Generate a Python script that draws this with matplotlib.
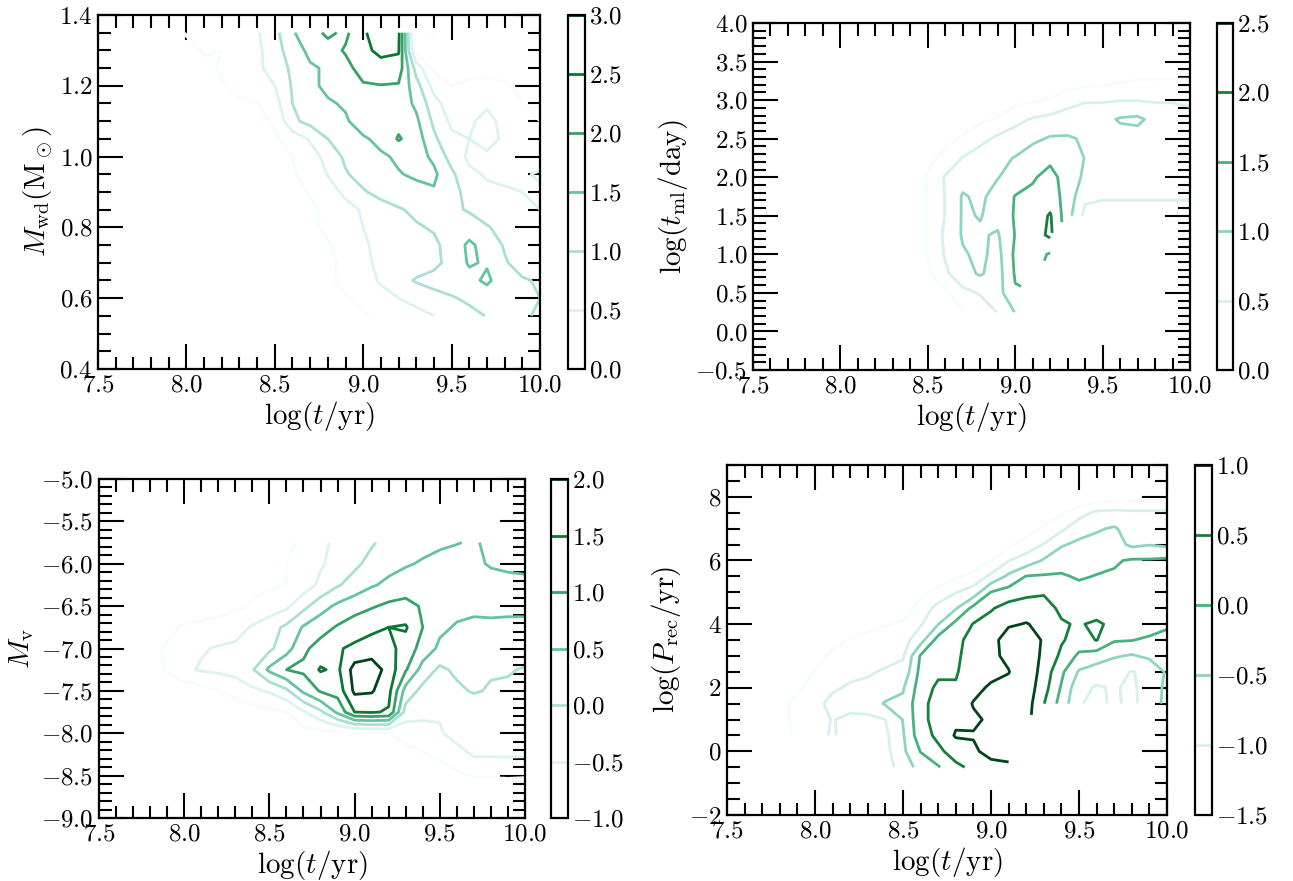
import numpy as np
import matplotlib
matplotlib.use("Agg")
import matplotlib.pyplot as plt
from matplotlib.ticker import MultipleLocator

plt.rcParams['font.family'] = 'serif'
plt.rcParams['font.serif'] = ['cmr10', 'DejaVu Serif']
plt.rcParams['mathtext.fontset'] = 'cm'
plt.rcParams['axes.formatter.use_mathtext'] = True
plt.rcParams['axes.unicode_minus'] = True

nan = np.nan

# ---------------- Panel 1 : white-dwarf mass vs age (log density) ----------------
logt_p1 = [7.9, 8.0, 8.1, 8.2, 8.3, 8.4, 8.5, 8.6, 8.7, 8.8, 8.9,
           9.0, 9.1, 9.2, 9.3, 9.4, 9.5, 9.6, 9.7, 9.8, 9.9, 10.0]
mwd_p1 = [1.35, 1.30, 1.25, 1.20, 1.15, 1.10, 1.05, 1.00, 0.95,
          0.90, 0.85, 0.80, 0.75, 0.70, 0.65, 0.60, 0.55]
dens_p1 = [
    [-0.5, 0.05, 0.1, 0.1, 0.2, 0.45, 0.85, 1.45, 1.8, 2.1, 1.9, 2.4, 2.9, 2.6, -0.3, 0.05, -0.5, -0.5, -0.5, -0.5, -0.5, -0.5],
    [-0.5, -0.2, 0.05, 0.0, 0.2, 0.4, 0.75, 1.3, 1.6, 1.8, 2.05, 2.4, 2.6, 2.55, -0.2, -0.1, -0.5, -0.5, -0.5, -0.5, -0.5, -0.5],
    [-0.5, -0.3, -0.1, 0.05, 0.25, 0.4, 0.7, 1.1, 1.45, 1.55, 1.85, 2.2, 2.35, 2.3, 0.8, -0.1, -0.4, -0.3, -0.3, -0.4, -0.5, -0.5],
    [-0.5, -0.5, -0.2, -0.05, 0.2, 0.35, 0.5, 1.05, 1.4, 1.6, 1.7, 1.95, 1.98, 1.95, 1.2, 0.3, 0.0, 0.2, 0.3, 0.1, -0.1, -0.3],
    [-0.6, -0.5, -0.4, -0.25, -0.1, -0.02, 0.3, 1.0, 1.2, 1.45, 1.55, 1.75, 1.8, 1.8, 1.4, 0.7, 0.2, 0.3, 0.45, 0.3, 0.0, -0.2],
    [-0.6, -0.6, -0.4, -0.3, -0.2, -0.1, 0.05, 0.9, 1.15, 1.35, 1.45, 1.7, 1.8, 1.85, 1.6, 0.9, 0.4, 0.45, 0.6, 0.4, 0.2, 0.0],
    [-0.7, -0.6, -0.5, -0.4, -0.3, -0.15, -0.05, 0.2, 0.55, 1.0, 1.3, 1.45, 1.6, 2.05, 1.75, 1.1, 0.6, 0.5, 0.6, 0.45, 0.3, 0.1],
    [-0.8, -0.7, -0.6, -0.5, -0.4, -0.35, -0.2, 0.0, 0.3, 0.65, 1.1, 1.35, 1.45, 1.55, 1.7, 1.4, 0.8, 0.4, 0.45, 0.4, 0.4, 0.3],
    [-0.9, -0.8, -0.7, -0.6, -0.5, -0.4, -0.25, -0.05, 0.2, 0.52, 0.95, 1.2, 1.4, 1.48, 1.55, 1.6, 1.1, 0.6, 0.45, 0.4, 0.45, 0.55],
    [-1.0, -0.9, -0.8, -0.7, -0.6, -0.5, -0.35, -0.2, 0.05, 0.3, 0.6, 0.95, 1.15, 1.3, 1.4, 1.45, 1.2, 0.8, 0.6, 0.55, 0.5, 0.45],
    [-1.0, -1.0, -0.9, -0.8, -0.7, -0.5, -0.4, -0.25, -0.1, 0.1, 0.35, 0.55, 0.8, 0.95, 1.1, 1.2, 1.1, 0.95, 0.7, 0.6, 0.55, 0.5],
    [-1.0, -1.0, -1.0, -0.9, -0.8, -0.6, -0.45, -0.3, -0.1, 0.1, 0.3, 0.5, 0.65, 0.8, 0.95, 1.05, 1.15, 1.25, 1.05, 0.8, 0.6, 0.55],
    [-1.0, -1.0, -1.0, -1.0, -0.9, -0.7, -0.5, -0.35, -0.2, -0.05, 0.2, 0.45, 0.6, 0.65, 0.8, 0.9, 1.2, 1.6, 1.3, 0.95, 0.7, 0.6],
    [-1.0, -1.0, -1.0, -1.0, -1.0, -0.8, -0.6, -0.5, -0.3, -0.1, 0.1, 0.4, 0.6, 0.65, 0.75, 0.85, 1.2, 1.55, 1.45, 1.05, 0.8, 0.7],
    [-1.0, -1.0, -1.0, -1.0, -1.0, -1.0, -0.8, -0.6, -0.4, -0.1, 0.15, 0.3, 0.55, 0.8, 1.05, 1.2, 1.3, 1.35, 1.6, 1.2, 1.05, 0.95],
    [-1.0, -1.0, -1.0, -1.0, -1.0, -1.0, -1.0, -0.8, -0.6, -0.3, -0.05, 0.15, 0.35, 0.5, 0.65, 0.8, 0.95, 1.1, 1.2, 1.15, 1.05, 1.0],
    [-1.0, -1.0, -1.0, -1.0, -1.0, -1.0, -1.0, -1.0, -0.8, -0.6, -0.3, -0.05, 0.1, 0.25, 0.35, 0.5, 0.7, 0.85, 1.02, 1.1, 1.05, 0.95],
]
levels_p1 = [0.0, 0.5, 1.0, 1.5, 2.0, 2.5, 3.0]

# ---------------- Panel 2 : mass-loss timescale vs age ----------------
logt_p2 = [8.4, 8.5, 8.6, 8.7, 8.8, 8.9, 9.0, 9.1, 9.2, 9.3, 9.4, 9.5, 9.6, 9.7, 9.8, 9.9, 10.0]
tml_p2 = [3.5, 3.25, 3.0, 2.75, 2.5, 2.25, 2.0, 1.75, 1.5, 1.25, 1.0, 0.75, 0.5, 0.25]
dens_p2 = [
    [-0.5, -0.5, -0.5, -0.5, -0.5, -0.5, -0.5, -0.5, -0.5, -0.5, -0.5, -0.5, -0.5, -0.5, -0.5, -0.5, -0.5],
    [-0.5, -0.5, -0.5, -0.5, -0.5, -0.5, -0.5, -0.45, -0.4, -0.3, -0.2, -0.15, -0.05, 0.02, 0.05, 0.05, 0.05],
    [-0.5, -0.5, -0.5, -0.5, -0.4, -0.3, -0.15, -0.05, 0.05, 0.3, 0.45, 0.45, 0.48, 0.48, 0.45, 0.45, 0.4],
    [-0.5, -0.4, -0.3, -0.2, -0.1, 0.05, 0.35, 0.55, 0.65, 0.75, 0.8, 0.85, 1.05, 1.1, 0.85, 0.8, 0.7],
    [-0.5, -0.3, -0.1, 0.05, 0.35, 0.6, 0.75, 0.9, 1.05, 1.05, 0.95, 0.8, 0.8, 0.8, 0.8, 0.75, 0.7],
    [-0.4, -0.1, 0.1, 0.52, 0.75, 0.9, 1.02, 1.25, 1.4, 1.3, 0.98, 0.75, 0.7, 0.7, 0.7, 0.65, 0.65],
    [-0.4, 0.05, 0.55, 0.8, 0.9, 0.98, 1.2, 1.45, 1.65, 1.3, 0.9, 0.7, 0.65, 0.65, 0.65, 0.6, 0.6],
    [-0.4, 0.02, 0.52, 1.05, 0.9, 1.2, 1.52, 1.6, 1.75, 1.3, 0.6, 0.55, 0.55, 0.55, 0.55, 0.55, 0.55],
    [-0.4, 0.02, 0.52, 1.05, 0.98, 1.15, 1.55, 1.7, 2.05, 1.2, 0.35, 0.3, 0.3, 0.3, 0.3, 0.3, 0.3],
    [-0.4, 0.02, 0.6, 1.05, 1.05, 0.95, 1.52, 1.75, 2.1, nan, nan, nan, nan, nan, nan, nan, nan],
    [-0.4, 0.02, 0.55, 0.95, 1.1, 0.85, 1.6, 1.7, 1.45, nan, nan, nan, nan, nan, nan, nan, nan],
    [-0.5, -0.1, 0.4, 0.85, 1.05, 0.8, 1.55, 1.6, nan, nan, nan, nan, nan, nan, nan, nan, nan],
    [-0.6, -0.4, -0.1, 0.35, 0.55, 0.8, 1.45, nan, nan, nan, nan, nan, nan, nan, nan, nan, nan],
    [-0.7, -0.6, -0.4, -0.05, 0.2, 0.52, 1.02, nan, nan, nan, nan, nan, nan, nan, nan, nan, nan],
]
levels_p2 = [0.0, 0.5, 1.0, 1.5, 2.0, 2.5]

# ---------------- Panel 3 : absolute V magnitude vs age ----------------
logt_p3 = [7.8, 7.9, 8.0, 8.1, 8.2, 8.3, 8.4, 8.5, 8.6, 8.7, 8.8, 8.9,
           9.0, 9.1, 9.2, 9.3, 9.4, 9.5, 9.6, 9.7, 9.8, 9.9, 10.0]
mv_p3 = [-5.75, -6.0, -6.25, -6.5, -6.75, -7.0, -7.25, -7.5, -7.75, -8.0, -8.25, -8.5, -8.75]
dens_p3 = [
    [-1.5, -1.5, -1.5, -1.5, -1.4, -1.3, -1.2, -1.1, -1.05, -0.95, -0.6, -0.4, -0.2, -0.05, 0.15, 0.25, 0.35, 0.42, 0.48, 0.55, 0.4, 0.35, 0.3],
    [-1.5, -1.5, -1.5, -1.4, -1.3, -1.2, -1.15, -1.1, -1.0, -0.8, -0.55, -0.35, -0.1, 0.15, 0.35, 0.45, 0.55, 0.65, 0.7, 0.6, 0.45, 0.4, 0.4],
    [-1.5, -1.5, -1.4, -1.3, -1.2, -1.15, -1.1, -1.05, -1.0, -0.75, -0.4, -0.05, 0.2, 0.45, 0.6, 0.75, 0.8, 0.8, 0.75, 0.7, 0.7, 0.65, 0.6],
    [-1.5, -1.4, -1.3, -1.2, -1.15, -1.1, -0.95, -0.8, -0.6, -0.15, 0.3, 0.6, 0.8, 0.95, 1.1, 1.15, 0.95, 0.8, 0.65, 0.6, 0.6, 0.55, 0.55],
    [-1.3, -1.1, -0.95, -0.9, -0.85, -0.7, -0.45, -0.2, 0.1, 0.55, 0.8, 1.05, 1.25, 1.4, 1.5, 1.55, 1.0, 0.6, 0.45, 0.4, 0.42, 0.45, 0.45],
    [-1.1, -0.95, -0.8, -0.55, -0.45, -0.4, -0.3, -0.1, 0.3, 0.9, 1.2, 1.45, 1.6, 1.7, 1.65, 1.3, 0.8, 0.4, 0.3, 0.25, 0.25, 0.3, 0.35],
    [-1.2, -0.95, -0.6, -0.45, -0.4, -0.3, -0.05, 0.6, 1.0, 1.1, 1.55, 1.4, 2.2, 2.3, 1.8, 1.05, 0.3, -0.1, 0.1, 0.1, 0.05, 0.05, -0.05],
    [-1.5, -1.4, -1.3, -1.2, -1.0, -0.85, -0.6, -0.45, -0.1, 0.6, 1.05, 1.2, 2.1, 2.05, 1.65, 0.3, -0.15, -0.25, -0.1, 0.05, -0.05, -0.1, -0.15],
    [-1.6, -1.6, -1.5, -1.45, -1.4, -1.3, -1.2, -1.1, -1.0, -0.55, -0.1, 0.6, 1.5, 1.55, 1.45, -0.2, -0.4, -0.45, -0.4, -0.35, -0.4, -0.45, -0.5],
    [-1.7, -1.7, -1.7, -1.7, -1.6, -1.5, -1.4, -1.35, -1.3, -1.2, -1.15, -1.1, -1.1, -1.05, -1.0, -0.85, -0.65, -0.55, -0.3, -0.25, -0.25, -0.3, -0.3],
    [-1.8, -1.8, -1.8, -1.8, -1.8, -1.8, -1.8, -1.7, -1.65, -1.6, -1.55, -1.5, -1.5, -1.4, -1.3, -1.15, -1.05, -0.9, -0.7, -0.45, -0.45, -0.45, -0.45],
    [-2.0, -2.0, -2.0, -2.0, -2.0, -2.0, -2.0, -2.0, -2.0, -2.0, -2.0, -2.0, -2.0, -2.0, -2.0, -1.6, -1.45, -1.3, -1.1, -0.95, -0.9, -0.85, -0.9],
    [-2.0, -2.0, -2.0, -2.0, -2.0, -2.0, -2.0, -2.0, -2.0, -2.0, -2.0, -2.0, -2.0, -2.0, -2.0, -2.0, -2.0, -2.0, -2.0, -2.0, -2.0, -2.0, -2.0],
]
levels_p3 = [-1.0, -0.5, 0.0, 0.5, 1.0, 1.5, 2.0]

# ---------------- Panel 4 : recurrence period vs age (given column by column) ----------------
logt_p4 = [7.7, 7.8, 7.9, 8.0, 8.1, 8.2, 8.3, 8.4, 8.5, 8.6, 8.7, 8.8,
           8.9, 9.0, 9.1, 9.2, 9.3, 9.4, 9.5, 9.6, 9.7, 9.8, 9.9, 10.0]
prec_p4 = [8.5, 8.0, 7.5, 7.0, 6.5, 6.0, 5.5, 5.0, 4.5, 4.0, 3.5, 3.0, 2.5, 2.0, 1.5, 1.0, 0.5, 0.0, -0.5]
dens_p4_cols = [
    [-2, -2, -2, -2, -2, -2, -2, -2, -2, -2, -2, -2, -2, -2, -2, -2, -2, nan, nan],
    [-2, -2, -2, -2, -2, -2, -2, -2, -2, -2, -2, -2, -2, -1.9, -1.7, -1.7, -1.7, nan, nan],
    [-2, -2, -2, -2, -2, -2, -2, -2, -2, -2, -2, -2, -1.9, -1.6, -1.3, -1.35, -1.4, nan, nan],
    [-2, -2, -2, -2, -2, -2, -2, -2, -2, -2, -2, -1.8, -1.45, -1.25, -1.1, -1.15, -1.15, nan, nan],
    [-2, -2, -2, -2, -2, -2, -2, -2, -2, -2, -1.75, -1.35, -1.2, -1.05, -0.9, -0.98, -0.95, nan, nan],
    [-2, -2, -2, -2, -2, -2, -2, -2, -2, -1.8, -1.45, -1.3, -1.1, -0.95, -0.85, -1.1, -1.2, nan, nan],
    [-2, -2, -2, -2, -2, -2, -2, -2, -1.9, -1.6, -1.4, -1.25, -1.05, -0.9, -0.8, -1.1, -1.2, nan, nan],
    [-2, -2, -2, -2, -2, -2, -2, -2, -1.75, -1.52, -1.3, -1.15, -0.95, -0.8, -0.45, -1.0, -1.1, -1.15, -1.2],
    [-2, -2, -2, -2, -2, -2, -2, -1.9, -1.7, -1.45, -1.2, -1.05, -0.85, -0.55, -0.4, -0.48, -0.55, -0.6, -0.8],
    [-2, -2, -2, -2, -2, -2, -1.85, -1.6, -1.35, -1.05, -0.7, 0.05, 0.15, 0.25, 0.35, 0.35, 0.3, 0.02, -0.3],
    [-2, -2, -2, -2, -2, -2, -1.7, -1.4, -0.8, -0.52, 0.2, 0.3, 0.4, 0.6, 0.7, 0.7, 0.6, 0.4, -0.05],
    [-2, -2, -2, -2, -2, -1.9, -1.6, -1.02, -0.55, 0.15, 0.35, 0.4, 0.45, 0.55, 0.8, 0.9, 1.05, 0.7, 0.4],
    [-2, -2, -2, -2, -2, -1.9, -1.3, -0.8, 0.15, 0.52, 0.7, 0.75, 0.8, 0.9, 1.02, 0.95, 1.02, 0.95, 0.6],
    [-2, -2, -2, -2, -1.9, -1.52, -0.9, 0.02, 0.45, 0.7, 0.85, 0.9, 0.9, 1.05, 1.1, 1.05, 1.1, 1.1, 0.9],
    [-2, -2, -2, -2, -1.6, -1.02, -0.4, 0.2, 0.7, 0.95, 1.2, 1.1, 0.98, 1.15, 1.3, 1.3, 1.3, 1.2, 0.9],
    [-2, -2, -2, -1.8, -1.25, -0.8, 0.02, 0.35, 0.8, 1.02, 1.25, 1.3, 1.35, 1.3, 1.25, 1.2, 1.1, nan, nan],
    [-2, -2, -1.9, -1.4, -0.98, -0.45, 0.05, 0.45, 0.7, 0.9, 0.95, 0.9, 0.8, 0.7, 0.52, nan, nan, nan, nan],
    [-2, -2, -1.55, -1.1, -0.55, -0.2, 0.05, 0.2, 0.4, 0.55, 0.55, 0.4, 0.1, -0.05, -0.2, nan, nan, nan, nan],
    [-2, -2, -1.2, -0.7, -0.4, -0.2, -0.05, 0.15, 0.3, 0.45, 0.3, -0.1, -0.55, -0.85, -0.95, nan, nan, nan, nan],
    [-2, -1.8, -0.9, -0.55, -0.35, -0.15, 0.02, 0.15, 0.2, 0.6, 0.52, -0.25, -0.75, -1.05, -1.15, nan, nan, nan, nan],
    [-2, -1.75, -0.85, -0.45, -0.3, -0.05, 0.05, 0.1, 0.2, 0.35, 0.05, -0.45, -0.85, -0.95, -0.9, nan, nan, nan, nan],
    [-2, -1.7, -0.9, -0.7, -0.6, 0.05, 0.2, 0.3, 0.35, 0.3, 0.02, -0.55, -1.02, -1.1, -1.15, nan, nan, nan, nan],
    [-2, -1.7, -0.9, -0.65, -0.52, 0.05, 0.3, 0.35, 0.4, 0.3, -0.1, -0.4, -0.9, -0.75, -0.7, nan, nan, nan, nan],
    [-2, -1.7, -0.9, -0.7, -0.6, 0.1, 0.3, 0.35, 0.35, 0.1, -0.2, -0.45, -0.42, -0.4, -0.4, nan, nan, nan, nan],
]
levels_p4 = [-1.5, -1.0, -0.5, 0.0, 0.5, 1.0]

# ---------------- figure ----------------
W, H = 1293, 881
fig = plt.figure(figsize=(W / 100, H / 100), dpi=100)


def px_axes(x0, y0, x1, y1):
    return fig.add_axes([x0 / W, 1 - y1 / H, (x1 - x0) / W, (y1 - y0) / H])


TICK_FS = 18
LABEL_FS = 21


def style_axes(ax, ymajor, yminor):
    ax.xaxis.set_major_locator(MultipleLocator(0.5))
    ax.xaxis.set_minor_locator(MultipleLocator(0.1))
    ax.yaxis.set_major_locator(MultipleLocator(ymajor))
    ax.yaxis.set_minor_locator(MultipleLocator(yminor))
    ax.tick_params(which='both', direction='in', top=True, right=True,
                   width=1.5, labelsize=TICK_FS, pad=4)
    ax.tick_params(which='major', length=18)
    ax.tick_params(which='minor', length=9)
    for s in ax.spines.values():
        s.set_linewidth(1.6)


def panel(ax_box, cb_box, x, y, z, levels, xlim, ylim, ymajor, yminor, ylabel):
    ax = px_axes(*ax_box)
    cax = px_axes(*cb_box)
    z = np.ma.masked_invalid(np.asarray(z, dtype=float))
    cs = ax.contour(x, y, z, levels=levels, cmap='BuGn', linewidths=2.0)
    ax.set_xlim(*xlim)
    ax.set_ylim(*ylim)
    style_axes(ax, ymajor, yminor)
    ax.set_xlabel(r'$\log(t/{\rm yr})$', fontsize=LABEL_FS, labelpad=2)
    ax.set_ylabel(ylabel, fontsize=LABEL_FS, labelpad=4)
    cb = fig.colorbar(cs, cax=cax)
    cb.set_ticks(levels)
    cb.ax.tick_params(length=0, labelsize=TICK_FS, pad=3)
    cb.outline.set_linewidth(1.6)
    return ax


# panel 1
panel((98, 15, 540, 369), (568, 15, 585, 369),
      logt_p1, mwd_p1[::-1], dens_p1[::-1], levels_p1,
      (7.5, 10.0), (0.4, 1.4), 0.2, 0.05, r'$M_{\rm wd}({\rm M_\odot})$')

# panel 2
panel((753, 23, 1190, 370), (1217, 23, 1233, 370),
      logt_p2, tml_p2[::-1], dens_p2[::-1], levels_p2,
      (7.5, 10.0), (-0.5, 4.0), 0.5, 0.1, r'$\log(t_{\rm ml}/{\rm day})$')

# panel 3
panel((99, 479, 525, 818), (551, 479, 568, 818),
      logt_p3, mv_p3[::-1], dens_p3[::-1], levels_p3,
      (7.5, 10.0), (-9.0, -5.0), 0.5, 0.1, r'$M_{\rm v}$')

# panel 4
z4 = np.array(dens_p4_cols, dtype=float).T
panel((727, 465, 1167, 815), (1195, 465, 1212, 815),
      logt_p4, prec_p4[::-1], z4[::-1], levels_p4,
      (7.5, 10.0), (-2.0, 9.0), 2.0, 0.5, r'$\log(P_{\rm rec}/{\rm yr})$')

fig.savefig('out.png', dpi=100)
